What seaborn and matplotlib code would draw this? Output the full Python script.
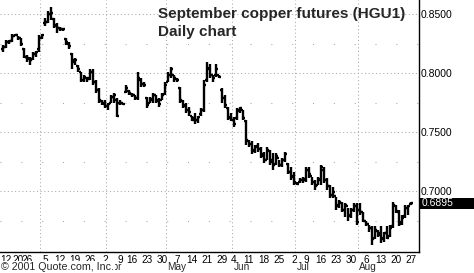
import numpy as np
import pandas as pd
import matplotlib
matplotlib.use("Agg")
import matplotlib.pyplot as plt
from matplotlib.patches import Rectangle
from matplotlib.transforms import ScaledTranslation
import seaborn as sns

# Daily OHLC of September copper futures (HGU1), Feb 12 - Aug 27 2001 (trading days)
highs = [0.824, 0.828, 0.828, 0.833, 0.833, 0.831, 0.830, 0.821, 0.815, 0.814,
         0.818, 0.819, 0.832, 0.833, 0.847, 0.853, 0.856, 0.847, 0.842, 0.839,
         0.838, 0.830, 0.826, 0.817, 0.813, 0.807, 0.801, 0.798, 0.797, 0.803,
         0.803, 0.794, 0.787, 0.777, 0.777, 0.775, 0.781, 0.783, 0.779, 0.777,
         0.775, 0.790, 0.786, 0.783, 0.781, 0.801, 0.796, 0.792, 0.780, 0.780,
         0.783, 0.781, 0.779, 0.783, 0.792, 0.801, 0.805, 0.798, 0.796, 0.788,
         0.777, 0.775, 0.771, 0.764, 0.766, 0.764, 0.770, 0.794, 0.809, 0.808,
         0.798, 0.808, 0.798, 0.787, 0.781, 0.771, 0.766, 0.763, 0.770, 0.771,
         0.769, 0.760, 0.743, 0.742, 0.739, 0.741, 0.737, 0.733, 0.737, 0.735,
         0.732, 0.732, 0.726, 0.728, 0.733, 0.724, 0.720, 0.716, 0.708, 0.711,
         0.712, 0.720, 0.720, 0.712, 0.709, 0.712, 0.722, 0.720, 0.711, 0.705,
         0.703, 0.695, 0.692, 0.691, 0.690, 0.686, 0.686, 0.690, 0.690, 0.690,
         0.682, 0.675, 0.671, 0.670, 0.670, 0.667, 0.670, 0.665, 0.670, 0.671,
         0.691, 0.688, 0.684, 0.680, 0.688, 0.688, 0.691]
lows = [0.818, 0.821, 0.825, 0.826, 0.831, 0.828, 0.823, 0.813, 0.809, 0.807,
        0.811, 0.814, 0.818, 0.829, 0.840, 0.842, 0.845, 0.838, 0.834, 0.836,
        0.836, 0.824, 0.820, 0.803, 0.807, 0.801, 0.792, 0.792, 0.792, 0.794,
        0.790, 0.783, 0.775, 0.773, 0.770, 0.769, 0.775, 0.775, 0.763, 0.773,
        0.773, 0.783, 0.781, 0.780, 0.777, 0.777, 0.788, 0.788, 0.770, 0.775,
        0.775, 0.775, 0.771, 0.777, 0.781, 0.792, 0.796, 0.792, 0.792, 0.775,
        0.770, 0.766, 0.764, 0.759, 0.757, 0.758, 0.764, 0.767, 0.792, 0.796,
        0.792, 0.797, 0.796, 0.775, 0.770, 0.760, 0.759, 0.754, 0.760, 0.766,
        0.760, 0.739, 0.737, 0.731, 0.732, 0.733, 0.728, 0.724, 0.726, 0.722,
        0.718, 0.722, 0.720, 0.720, 0.725, 0.714, 0.709, 0.705, 0.705, 0.707,
        0.707, 0.708, 0.711, 0.705, 0.701, 0.705, 0.705, 0.707, 0.701, 0.694,
        0.694, 0.684, 0.686, 0.682, 0.678, 0.675, 0.677, 0.682, 0.671, 0.680,
        0.674, 0.670, 0.665, 0.654, 0.659, 0.661, 0.656, 0.657, 0.659, 0.661,
        0.669, 0.681, 0.670, 0.671, 0.677, 0.680, 0.688]
opens = [0.820, 0.822, 0.826, 0.827, 0.831, 0.832, 0.830, 0.820, 0.814, 0.812,
         0.812, 0.816, 0.820, 0.830, 0.842, 0.843, 0.850, 0.846, 0.840, 0.838,
         0.837, 0.829, 0.825, 0.816, 0.809, 0.806, 0.801, 0.794, 0.796, 0.795,
         0.801, 0.792, 0.786, 0.776, 0.774, 0.772, 0.775, 0.780, 0.777, 0.775,
         0.775, 0.784, 0.785, 0.782, 0.781, 0.779, 0.794, 0.791, 0.779, 0.775,
         0.777, 0.781, 0.777, 0.777, 0.782, 0.792, 0.798, 0.798, 0.795, 0.787,
         0.776, 0.772, 0.769, 0.764, 0.762, 0.760, 0.765, 0.769, 0.794, 0.803,
         0.798, 0.798, 0.798, 0.786, 0.779, 0.770, 0.762, 0.760, 0.762, 0.768,
         0.769, 0.759, 0.742, 0.740, 0.734, 0.738, 0.736, 0.730, 0.726, 0.734,
         0.726, 0.723, 0.728, 0.722, 0.726, 0.723, 0.716, 0.713, 0.707, 0.708,
         0.709, 0.709, 0.718, 0.713, 0.708, 0.705, 0.709, 0.718, 0.709, 0.704,
         0.697, 0.696, 0.688, 0.690, 0.684, 0.687, 0.680, 0.684, 0.687, 0.684,
         0.682, 0.675, 0.672, 0.669, 0.660, 0.666, 0.664, 0.660, 0.664, 0.662,
         0.670, 0.687, 0.682, 0.674, 0.679, 0.686, 0.689]
closes = [0.822, 0.826, 0.827, 0.831, 0.832, 0.830, 0.825, 0.814, 0.813, 0.811,
          0.816, 0.818, 0.830, 0.832, 0.843, 0.850, 0.851, 0.841, 0.838, 0.837,
          0.837, 0.826, 0.823, 0.811, 0.811, 0.803, 0.794, 0.797, 0.796, 0.801,
          0.792, 0.786, 0.777, 0.775, 0.772, 0.774, 0.780, 0.781, 0.764, 0.775,
          0.774, 0.787, 0.783, 0.781, 0.779, 0.796, 0.791, 0.790, 0.773, 0.778,
          0.781, 0.776, 0.774, 0.781, 0.790, 0.798, 0.803, 0.796, 0.794, 0.777,
          0.773, 0.769, 0.767, 0.760, 0.760, 0.763, 0.769, 0.790, 0.804, 0.798,
          0.796, 0.803, 0.797, 0.779, 0.773, 0.763, 0.760, 0.757, 0.769, 0.770,
          0.762, 0.743, 0.740, 0.735, 0.737, 0.736, 0.731, 0.726, 0.735, 0.725,
          0.722, 0.730, 0.722, 0.726, 0.731, 0.716, 0.712, 0.708, 0.706, 0.709,
          0.710, 0.718, 0.714, 0.708, 0.704, 0.710, 0.720, 0.709, 0.704, 0.697,
          0.699, 0.687, 0.691, 0.684, 0.688, 0.679, 0.684, 0.687, 0.674, 0.682,
          0.675, 0.672, 0.669, 0.659, 0.667, 0.663, 0.659, 0.664, 0.660, 0.669,
          0.688, 0.683, 0.672, 0.677, 0.686, 0.687, 0.6895]

week_labels = ["12", "20", "26", "5", "12", "19", "26", "2", "9", "16", "23", "30",
               "7", "14", "21", "29", "4", "11", "18", "25", "2", "9", "16", "23",
               "30", "6", "13", "20", "27"]
week_idx = [0, 5, 9, 14, 19, 24, 29, 34, 39, 43, 48, 53, 58, 63, 68, 73, 77, 82,
            87, 92, 97, 101, 106, 111, 116, 121, 126, 131, 136]
month_labels = ["Apr", "May", "Jun", "Jul", "Aug"]
month_idx = [34, 54, 76, 97, 118]
grid_month_idx = [12, 34, 54, 76, 97, 118]
y_major = [0.70, 0.75, 0.80, 0.85]
y_minor = [0.675, 0.725, 0.775, 0.825]
last_price = 0.6895
title_line1 = "September copper futures (HGU1)"
title_line2 = "Daily chart"
copyright_text = "\u00a9 2001 Quote.com, Inc."

sns.set_style("white")
plt.rcParams['font.family'] = ['Liberation Sans', 'DejaVu Sans']

W, H = 474, 273
fs_y = 7.5
fs_x = 7.2
fig = plt.figure(figsize=(W / 100, H / 100), dpi=100)
ax = fig.add_axes([0, 21 / H, 419 / W, 252 / H])

df = pd.DataFrame(dict(x=np.arange(len(closes)), high=highs, low=lows,
                       open=opens, close=closes))
bar_kw = dict(color='black', capstyle='butt', antialiased=True, lw=1.7)
ax.vlines(df.x, df.low, df.high, zorder=3, **bar_kw)
ax.hlines(df.open, df.x - 0.7, df.x, zorder=3, **bar_kw)
ax.hlines(df.close, df.x, df.x + 0.7, zorder=3, **bar_kw)

ax.set_xlim(-1, 138.67)
ax.set_ylim(0.6483, 0.8619)

grid_col = '#a8a8a8'
for v in y_major:
    ax.axhline(v, color=grid_col, lw=0.75, ls=(0, (1, 2.5)), zorder=1)
for v in y_minor:
    ax.axhline(v, color=grid_col, lw=0.75, ls=(0, (1, 19)), zorder=1)
for m in grid_month_idx:
    ax.axvline(m + 0.3, color=grid_col, lw=0.75, ls=(0, (1, 2.5)), zorder=1)

for s in ['left', 'top']:
    ax.spines[s].set_visible(False)
for s in ['right', 'bottom']:
    ax.spines[s].set_color('black')
    ax.spines[s].set_linewidth(1.0)

ax.yaxis.tick_right()
ax.set_yticks(y_major)
ax.set_yticklabels([f"{v:.4f}" for v in y_major])
ax.set_xticks(week_idx)
ax.set_xticklabels(week_labels)
ax.tick_params(axis='both', length=0, colors='black')
ax.tick_params(axis='y', pad=1.5, labelsize=fs_y)
ax.tick_params(axis='x', pad=2, labelsize=fs_x)

# crowded February labels sit nudged as in the original
nudges = {0: 2.5, 1: 0.0, 2: -2.5}
for k, lab in enumerate(ax.get_xticklabels()):
    if k in nudges:
        lab.set_transform(lab.get_transform() +
                          ScaledTranslation(nudges[k] / 100, 0, fig.dpi_scale_trans))

xtrans = ax.get_xaxis_transform()
for lab, m in zip(month_labels, month_idx):
    ax.text(m + 0.8, -0.06, lab, transform=xtrans, ha='left', va='center',
            fontsize=fs_x, clip_on=False)

fig.text(1 / W, 1 - 267 / H, copyright_text, ha='left', va='center', fontsize=7.7,
         bbox=dict(facecolor='white', edgecolor='none', pad=0.6), zorder=10)

ytrans = ax.get_yaxis_transform()
ax.add_patch(Rectangle((1.0 + 1 / 419, last_price - 0.0048), 60 / 419, 0.0096,
                       transform=ytrans, facecolor='black', edgecolor='none',
                       clip_on=False, zorder=5))
ax.text(1.0 + 2.5 / 419, last_price, f"{last_price:.4f}", transform=ytrans,
        color='white', ha='left', va='center', fontsize=fs_y, zorder=6, clip_on=False)

fig.text(158 / W, 1 - 18 / H, title_line1, ha='left', va='baseline',
         fontsize=11, fontweight='bold')
fig.text(158 / W, 1 - 36 / H, title_line2, ha='left', va='baseline',
         fontsize=11, fontweight='bold')

fig.savefig("out.png", dpi=100)
